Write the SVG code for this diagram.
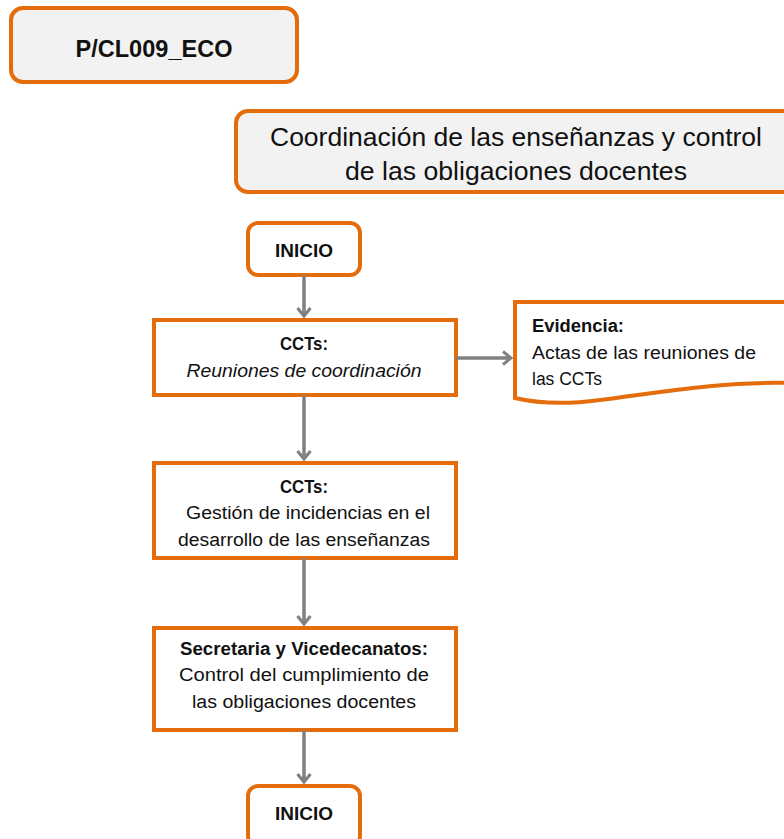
<svg xmlns="http://www.w3.org/2000/svg" width="784" height="839" viewBox="0 0 784 839">
<style>
.box{fill:#fff;stroke:#e46c0a;stroke-width:4}
.grey{fill:#f2f2f2;stroke:#e46c0a;stroke-width:4}
.t{font-family:"Liberation Sans",Arial,sans-serif;fill:#111;text-anchor:middle}
.s{text-anchor:start}
.b{font-weight:bold}
.conn{stroke:#808080;stroke-width:3.5;fill:none;marker-end:url(#ar)}
</style>
<defs>
<marker id="ar" markerWidth="16" markerHeight="16" refX="10" refY="8" orient="auto" markerUnits="userSpaceOnUse">
<path d="M2,1.5 L10,8 L2,14.5" fill="none" stroke="#808080" stroke-width="3"/>
</marker>
</defs>
<rect width="784" height="839" fill="#fff"/>
<g id="code">
<rect class="grey" x="11" y="8" width="286" height="74" rx="12"/>
<text class="t b" x="154" y="57" font-size="23" textLength="157" lengthAdjust="spacingAndGlyphs">P/CL009_ECO</text>
</g>
<g id="title">
<rect class="grey" x="236" y="111" width="570" height="81" rx="12"/>
<text class="t" x="516" y="146" font-size="25" textLength="492" lengthAdjust="spacingAndGlyphs">Coordinación  de las enseñanzas y control</text>
<text class="t" x="516" y="180" font-size="25" textLength="342" lengthAdjust="spacingAndGlyphs">de las obligaciones docentes</text>
</g>
<g id="inicio1">
<rect class="box" x="248" y="223" width="112" height="52" rx="10"/>
<text class="t b" x="304" y="257" font-size="18" textLength="58" lengthAdjust="spacingAndGlyphs">INICIO</text>
</g>
<g id="reuniones">
<rect class="box" x="154" y="320" width="302" height="75"/>
<text class="t b" x="304" y="350" font-size="18" textLength="48" lengthAdjust="spacingAndGlyphs">CCTs:</text>
<text class="t" x="304" y="377" font-size="18" font-style="italic" textLength="235" lengthAdjust="spacingAndGlyphs">Reuniones de coordinación</text>
</g>
<g id="evidencia">
<path class="box" d="M515,302 H790 V383 C720,381 650,394 600,400 C570,404 540,404 515,398 Z"/>
<text class="t s b" x="532" y="332" font-size="18" textLength="92" lengthAdjust="spacingAndGlyphs">Evidencia:</text>
<text class="t s" x="532" y="359" font-size="18" textLength="224" lengthAdjust="spacingAndGlyphs">Actas de las reuniones de</text>
<text class="t s" x="532" y="385" font-size="18" textLength="70" lengthAdjust="spacingAndGlyphs">las CCTs</text>
</g>
<g id="incidencias">
<rect class="box" x="154" y="463" width="302" height="95"/>
<text class="t b" x="304" y="493" font-size="18" textLength="48" lengthAdjust="spacingAndGlyphs">CCTs:</text>
<text class="t" x="308" y="519" font-size="18" textLength="244" lengthAdjust="spacingAndGlyphs">Gestión de incidencias en el</text>
<text class="t" x="304" y="546" font-size="18" textLength="252" lengthAdjust="spacingAndGlyphs">desarrollo de las enseñanzas</text>
</g>
<g id="control">
<rect class="box" x="154" y="628" width="302" height="102"/>
<text class="t b" x="304" y="655" font-size="18" textLength="248" lengthAdjust="spacingAndGlyphs">Secretaria y Vicedecanatos:</text>
<text class="t" x="304" y="681" font-size="18" textLength="250" lengthAdjust="spacingAndGlyphs">Control del cumplimiento de</text>
<text class="t" x="304" y="708" font-size="18" textLength="224" lengthAdjust="spacingAndGlyphs">las obligaciones docentes</text>
</g>
<g id="inicio2">
<rect class="box" x="248" y="786" width="112" height="60" rx="10"/>
<text class="t b" x="304" y="820" font-size="18" textLength="58" lengthAdjust="spacingAndGlyphs">INICIO</text>
</g>
<g id="connectors">
<line class="conn" x1="304" y1="275" x2="304" y2="316"/>
<line class="conn" x1="456" y1="358" x2="511" y2="358"/>
<line class="conn" x1="304" y1="395" x2="304" y2="459"/>
<line class="conn" x1="304" y1="558" x2="304" y2="624"/>
<line class="conn" x1="304" y1="730" x2="304" y2="782"/>
</g>
</svg>
